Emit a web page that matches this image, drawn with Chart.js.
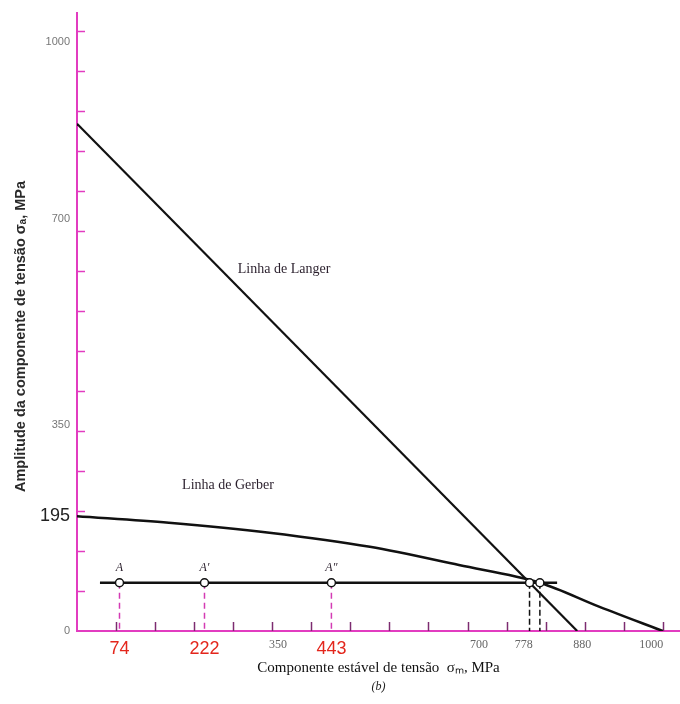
<!DOCTYPE html>
<html lang="pt">
<head>
<meta charset="UTF-8">
<title>Linhas de Langer e Gerber</title>
<script src="https://cdn.jsdelivr.net/npm/chart.js"></script>
<style>
  body { margin: 0; background: #fff; }
</style>
</head>
<body>
<div style="width: 680px; height: 704px;">
  <canvas id="myChart" width="680" height="704"></canvas>
</div>

<script>
const langerX = [0, 871];
const langerY = [862, 0];

const gerberX = [0, 160, 335, 510, 665, 806, 910, 1020];
const gerberY = [195, 184, 167, 143, 112, 82, 41, 0];

// linha de carga (amplitude constante)
const cargaX = [40, 836];
const cargaY = [82, 82];

const pontosX = [74, 222, 443];
const pontosNomes = ['A', 'A′', 'A″'];
const cortesX = [788, 806];   // Langer, Gerber

// rótulos dos eixos
const xTicks = [74, 222, 350, 443, 700, 778, 880, 1000];
const xTicksRed = [74, 222, 443];
const yTicks = [0, 195, 350, 700, 1000];
const yTicksBig = [195];
const minorTicks = [68, 136, 204, 272, 340, 408, 476, 544, 612, 680, 748, 816, 884, 952, 1020];
</script>

<script>
const ctx = document.getElementById('myChart');

const pink = '#e23cc0';
const yCarga = cargaY[0];

const toXY = (xs, ys) => xs.map((x, i) => ({ x: x, y: ys[i] }));
const drops = (xs) => xs.flatMap(x => [{ x: x, y: yCarga }, { x: x, y: 0 }, { x: x, y: null }]);
const tickIn = (c, list) => !!(c && c.tick && list.includes(c.tick.value));

// marcas de escala para dentro do gráfico
const innerTicks = {
    id: 'innerTicks',
    beforeDatasetsDraw(chart) {
        const { ctx, scales: { x, y } } = chart;
        ctx.save();
        ctx.lineWidth = 1.5;
        ctx.strokeStyle = '#7d2c70';
        minorTicks.forEach(v => {
            const px = Math.round(x.getPixelForValue(v)) + 0.5;
            ctx.beginPath();
            ctx.moveTo(px, x.top);
            ctx.lineTo(px, x.top - 9);
            ctx.stroke();
        });
        ctx.strokeStyle = pink;
        minorTicks.forEach(v => {
            const py = Math.round(y.getPixelForValue(v)) + 0.5;
            ctx.beginPath();
            ctx.moveTo(y.right, py);
            ctx.lineTo(y.right + 8, py);
            ctx.stroke();
        });
        ctx.restore();
    }
};

// textos dentro do gráfico
const notes = [
    { text: 'Linha de Langer', x: 280, y: 615, align: 'left', font: '14px "Liberation Serif"' },
    { text: 'Linha de Gerber', x: 183, y: 247, align: 'left', font: '14px "Liberation Serif"' },
];
const notesPlugin = {
    id: 'notes',
    afterDatasetsDraw(chart) {
        const { ctx, scales: { x, y } } = chart;
        ctx.save();
        ctx.fillStyle = '#2a1f2c';
        ctx.textBaseline = 'middle';
        notes.forEach(n => {
            ctx.font = n.font;
            ctx.textAlign = n.align;
            ctx.fillText(n.text, x.getPixelForValue(n.x), y.getPixelForValue(n.y));
        });
        ctx.font = 'italic 12px "Liberation Serif"';
        ctx.textAlign = 'center';
        pontosX.forEach((v, i) => {
            ctx.fillText(pontosNomes[i], x.getPixelForValue(v), y.getPixelForValue(yCarga) - 15);
        });
        ctx.restore();
    }
};

new Chart(ctx, {
    type: 'scatter',
    data: {
        datasets: [
            {
                label: 'pontos',
                data: pontosX.concat(cortesX).map(x => ({ x: x, y: yCarga })),
                pointRadius: 4,
                pointBackgroundColor: '#fff',
                pointBorderColor: '#111',
                pointBorderWidth: 1.5,
            },
            {
                label: 'cortes',
                data: drops(cortesX),
                showLine: true,
                borderColor: '#111',
                borderWidth: 1.5,
                borderDash: [6, 3],
                pointRadius: 0,
            },
            {
                label: 'A',
                data: drops(pontosX),
                showLine: true,
                borderColor: '#d43bb4',
                borderWidth: 1.5,
                borderDash: [6, 4],
                pointRadius: 0,
            },
            {
                label: 'carga',
                data: toXY(cargaX, cargaY),
                showLine: true,
                borderColor: '#111',
                borderWidth: 2.5,
                pointRadius: 0,
            },
            {
                label: 'Langer',
                data: toXY(langerX, langerY),
                showLine: true,
                borderColor: '#111',
                borderWidth: 2.2,
                pointRadius: 0,
            },
            {
                label: 'Gerber',
                data: toXY(gerberX, gerberY),
                showLine: true,
                borderColor: '#111',
                borderWidth: 2.5,
                pointRadius: 0,
                cubicInterpolationMode: 'monotone',
            },
        ]
    },
    options: {
        responsive: false,
        animation: false,
        layout: { autoPadding: false, padding: { top: 13, left: 0, right: 0, bottom: 0 } },
        plugins: {
            legend: { display: false },
            tooltip: { enabled: false },
            subtitle: {
                display: true,
                text: '(b)',
                position: 'bottom',
                fullSize: false,
                color: '#222',
                font: { family: 'Liberation Serif', style: 'italic', size: 12 },
                padding: { top: 0, bottom: 10 },
            },
        },
        scales: {
            x: {
                type: 'linear',
                min: 0,
                max: 1050,
                afterFit: (s) => { s.height = 48.6; s.paddingLeft = 0; s.paddingRight = 0; },
                afterBuildTicks: (s) => { s.ticks = xTicks.map(v => ({ value: v })); },
                grid: { drawOnChartArea: false, drawTicks: false },
                border: { display: true, color: pink, width: 2 },
                ticks: {
                    autoSkip: false,
                    maxRotation: 0,
                    padding: 7,
                    callback: (v) => String(v),
                    color: (c) => tickIn(c, xTicksRed) ? '#e3261c' : '#666',
                    font: (c) => tickIn(c, xTicksRed)
                        ? { family: 'Liberation Sans', size: 18 }
                        : { family: 'Liberation Serif', size: 12 },
                },
                title: {
                    display: true,
                    text: 'Componente estável de tensão  σₘ, MPa',
                    color: '#111',
                    font: { family: 'Liberation Serif', size: 15 },
                    padding: { top: 0, bottom: 3 },
                },
            },
            y: {
                type: 'linear',
                min: 0,
                max: 1050,
                afterFit: (s) => { s.width = 77; s.paddingTop = 0; s.paddingBottom = 0; },
                afterBuildTicks: (s) => { s.ticks = yTicks.map(v => ({ value: v })); },
                grid: { drawOnChartArea: false, drawTicks: false },
                border: { display: true, color: pink, width: 2 },
                ticks: {
                    autoSkip: false,
                    padding: 7,
                    callback: (v) => String(v),
                    color: (c) => tickIn(c, yTicksBig) ? '#222' : '#777',
                    font: (c) => tickIn(c, yTicksBig)
                        ? { family: 'Liberation Sans', size: 18 }
                        : { family: 'Liberation Sans', size: 11 },
                },
                title: {
                    display: true,
                    text: 'Amplitude da componente de tensão σₐ, MPa\u2002\u2002\u2002\u2002',
                    color: '#2a2a2a',
                    font: { family: 'Liberation Sans', size: 14.5, weight: 'bold' },
                    padding: { top: 12, bottom: 0 },
                },
            },
        },
    },
    plugins: [innerTicks, notesPlugin],
});
</script>
</body>
</html>
